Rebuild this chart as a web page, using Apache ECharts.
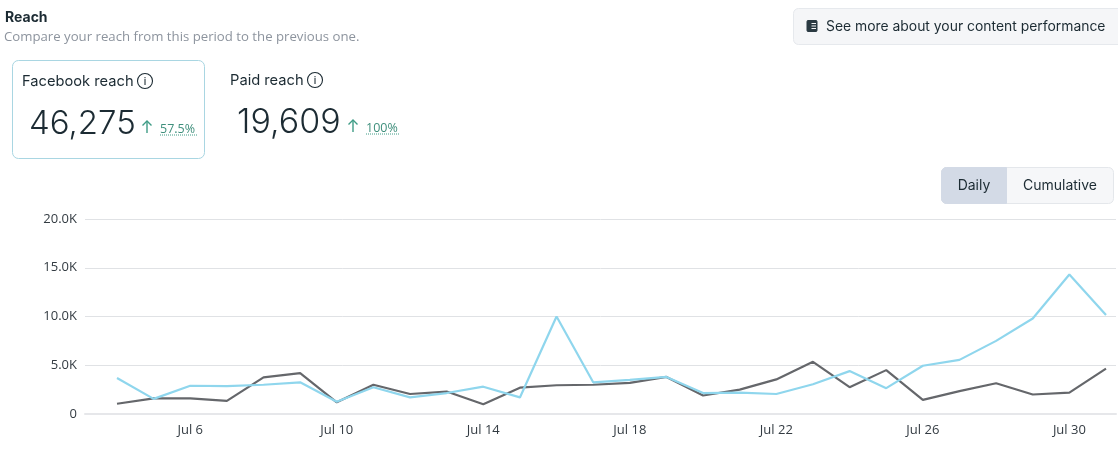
<!DOCTYPE html>
<html><head><meta charset="utf-8">
<style>html,body{margin:0;padding:0;background:#fff}#c{width:1118px;height:450px}</style>
<script src="https://cdn.jsdelivr.net/npm/echarts@6/dist/echarts.min.js"></script>
</head><body><div id="c"></div>
<script>
const days = ['Jul 4','Jul 5','Jul 6','Jul 7','Jul 8','Jul 9','Jul 10','Jul 11','Jul 12','Jul 13','Jul 14','Jul 15','Jul 16','Jul 17','Jul 18','Jul 19','Jul 20','Jul 21','Jul 22','Jul 23','Jul 24','Jul 25','Jul 26','Jul 27','Jul 28','Jul 29','Jul 30','Jul 31'];
const facebookReach = [3700,1550,2900,2850,3000,3250,1250,2750,1700,2150,2800,1700,10000,3250,3500,3800,2150,2200,2050,3050,4400,2650,4950,5550,7500,9800,14300,10150];
const paidReach = [1050,1600,1600,1350,3750,4200,1200,3000,2050,2300,1000,2700,2950,3000,3200,3800,1900,2500,3550,5350,2750,4500,1450,2350,3150,2000,2200,4650];
const yMax = 20000, yStep = 5000;
const SANS = 'Inter', TICK = '"Open Sans"';
const INK = '#1c2b33';

function txt(x,y,s,font,fill,align){return {type:'text',x,y,silent:true,style:{text:s,font,fill,verticalAlign:'middle',align:align||'left'}};}
function box(x,y,w,h,r,fill,stroke){return {type:'rect',silent:true,shape:{x,y,width:w,height:h,r},style:{fill,stroke,lineWidth:1}};}
function info(cx,cy){return [
 {type:'circle',silent:true,shape:{cx,cy,r:7.5},style:{fill:'none',stroke:INK,lineWidth:1.1}},
 txt(cx,cy+0.5,'i','500 10px '+SANS,INK,'center')];}
function arrow(x,y){return [
 {type:'line',silent:true,shape:{x1:x,y1:y-6,x2:x,y2:y+6},style:{stroke:'#3f9c86',lineWidth:1.4}},
 {type:'polyline',silent:true,shape:{points:[[x-4.5,y-1.5],[x,y-6],[x+4.5,y-1.5]]},style:{stroke:'#3f9c86',lineWidth:1.4,fill:'none'}}];}
function dotted(x1,x2,y){return {type:'line',silent:true,shape:{x1,y1:y,x2,y2:y},style:{stroke:'#3f9c86',lineWidth:1,lineDash:[1,1]}};}
function bookLine(y){return {type:'line',silent:true,shape:{x1:811.5,y1:y,x2:816,y2:y},style:{stroke:'#f5f6f8',lineWidth:1}};}

const g = [
 txt(5,18,'Reach','700 14px '+SANS,INK),
 txt(4,37,'Compare your reach from this period to the previous one.','13.2px '+TICK,'#8d949e'),
 box(12.5,60.5,192,98,6,'#fff','#a9d6e2'),
 txt(22,82,'Facebook reach','14.7px '+SANS,INK),
 ...info(145,81),
 txt(29,124,'46,275','300 33px '+SANS,INK),
 ...arrow(147,127),
 txt(160,129,'57.5%','12.5px '+TICK,'#3f8f7c'),
 dotted(160,197,135),
 txt(230,81,'Paid reach','14.7px '+SANS,INK),
 ...info(315,80),
 txt(237,123,'19,609','300 34px '+SANS,INK),
 ...arrow(353,126),
 txt(366,128,'100%','12.5px '+TICK,'#3f8f7c'),
 dotted(366,400,134),
 box(793.5,8.5,340,36,5,'#f5f6f8','#e6e9ed'),
 box(807,20.5,10,11,1,'#2b3a42','#2b3a42'),
 bookLine(23.5),bookLine(26),bookLine(28.5),
 txt(826,27,'See more about your content performance','13.9px '+SANS,INK),
 box(941.5,167.5,172,36,5,'#f6f7f9','#e4e7eb'),
 box(941.5,167.5,65,36,[5,0,0,5],'#d3dae6','#d3dae6'),
 txt(974,186,'Daily','14px '+SANS,INK,'center'),
 txt(1060,186,'Cumulative','14px '+SANS,INK,'center')
];

const chart = echarts.init(document.getElementById('c'));
chart.setOption({
 animation:false,
 backgroundColor:'#fff',
 graphic:{elements:g},
 grid:[
  {left:85,right:2,top:219,height:195},
  {left:117,width:989,top:219,height:195}
 ],
 xAxis:[
  {gridIndex:0,type:'value',min:0,max:1,axisLabel:{show:false},axisTick:{show:false},splitLine:{show:false},
   axisLine:{show:true,onZero:false,lineStyle:{color:'#e6e7ea',width:2}}},
  {gridIndex:1,type:'category',data:days,boundaryGap:false,axisLine:{show:false},axisTick:{show:false},
   axisLabel:{interval:(i)=>i%4===2,color:'#333b42',fontFamily:TICK,fontSize:13,margin:10}}
 ],
 yAxis:[
  {gridIndex:0,type:'value',min:0,max:yMax,interval:yStep,axisLine:{show:false},axisTick:{show:false},
   axisLabel:{color:'#333b42',fontFamily:TICK,fontSize:13,margin:8,formatter:v=>v===0?'0':(v/1000).toFixed(1)+'K'},
   splitLine:{lineStyle:{color:'#e0e2e5',width:1}}},
  {gridIndex:1,type:'value',min:0,max:yMax,interval:yStep,show:false}
 ],
 series:[
  {name:'Paid reach',type:'line',xAxisIndex:1,yAxisIndex:1,data:paidReach,showSymbol:false,smooth:false,lineStyle:{color:'#65676b',width:2.2}},
  {name:'Facebook reach',type:'line',xAxisIndex:1,yAxisIndex:1,data:facebookReach,showSymbol:false,smooth:false,lineStyle:{color:'#8fd6ed',width:2.2}}
 ]
});
</script></body></html>
